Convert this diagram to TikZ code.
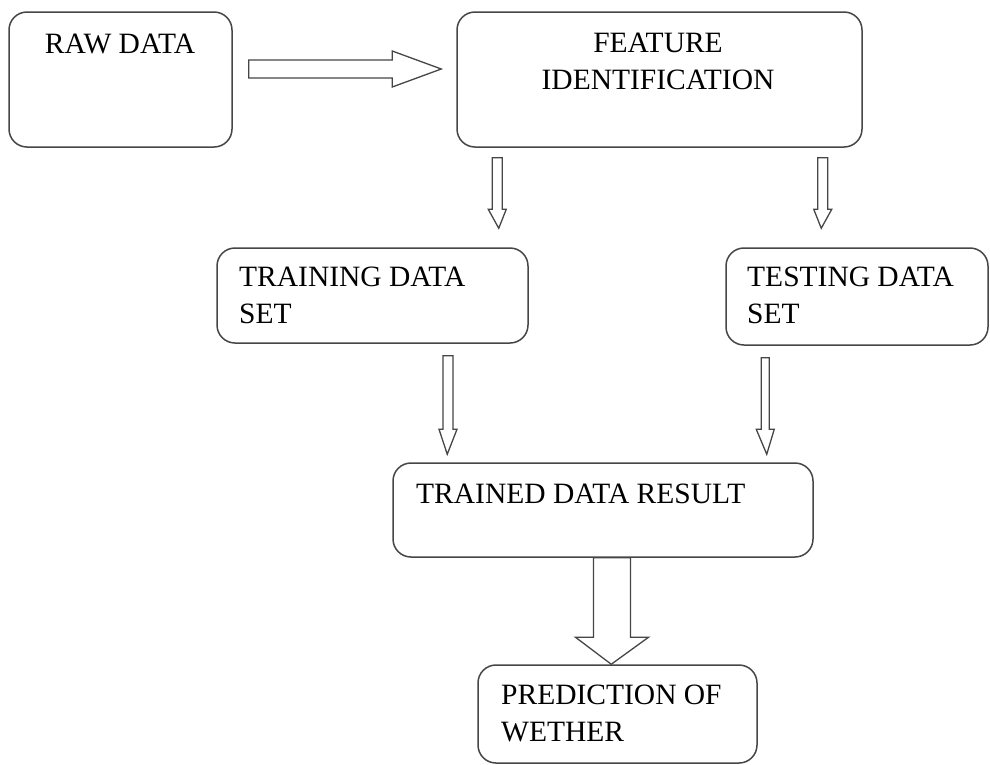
\documentclass[tikz,border=0pt]{standalone}
\usepackage{fontspec}
\setmainfont{Liberation Serif}
\usetikzlibrary{calc}
\definecolor{linegray}{RGB}{70,70,70}
\newcommand{\vblockarrow}[5]{%
  \draw[blk] let \p1=(#1), \p2=(#2) in
   (\x1-#3pt,\y1) -- (\x1+#3pt,\y1) -- (\x1+#3pt,\y2+#5pt) -- (\x1+#4pt,\y2+#5pt)
   -- (\x2,\y2) -- (\x1-#4pt,\y2+#5pt) -- (\x1-#3pt,\y2+#5pt) -- cycle;}
\newcommand{\hblockarrow}[5]{%
  \draw[blk] let \p1=(#1), \p2=(#2) in
   (\x1,\y1-#3pt) -- (\x2-#5pt,\y1-#3pt) -- (\x2-#5pt,\y1-#4pt)
   -- (\x2,\y2) -- (\x2-#5pt,\y1+#4pt) -- (\x2-#5pt,\y1+#3pt) -- (\x1,\y1+#3pt) -- cycle;}
\begin{document}
\begin{tikzpicture}[x=1pt,y=-1pt,
  box/.style={draw=linegray, line width=1.5pt, rounded corners=18pt, inner sep=0pt, fill=white},
  lbl/.style={inner sep=0pt, font=\fontsize{29.5}{37}\selectfont, text=black},
  blk/.style={draw=linegray, line width=1.3pt, fill=white, line join=miter}]
\useasboundingbox (0,0) rectangle (990,764);
\fill[white] (0,0) rectangle (990,764);

% boxes
\node[box, minimum width=223pt, minimum height=135pt] (raw) at (120.5,79.5) {};
\node[box, minimum width=405pt, minimum height=135pt] (feat) at (659.5,79.5) {};
\node[box, minimum width=311pt, minimum height=95pt] (train) at (372.5,295.5) {};
\node[box, minimum width=262pt, minimum height=97pt] (test) at (857,296.5) {};
\node[box, minimum width=420pt, minimum height=94pt] (trained) at (603,510) {};
\node[box, minimum width=279pt, minimum height=98pt] (pred) at (617.5,714) {};

% labels
\node[lbl, anchor=base] (rawt) at (120,53) {RAW DATA};
\node[lbl, anchor=north, align=center] (featt) at (658,33) {FEATURE\\IDENTIFICATION};
\node[lbl, anchor=north west, align=left] (traint) at (239,267) {TRAINING DATA\\SET};
\node[lbl, anchor=north west, align=left] (testt) at (747,267) {TESTING DATA\\SET};
\node[lbl, anchor=base west] (trainedt) at (416,503) {TRAINED DATA RESULT};
\node[lbl, anchor=north west, align=left] (predt) at (501,684.5) {PREDICTION OF\\WETHER};

% connector end points
\coordinate (a1s) at ($(raw.east)+(16,-10.5)$);
\coordinate (a1e) at ($(feat.west)+(-15,-10.5)$);
\coordinate (a2s) at ($(feat.south west)+(41,10)$);
\coordinate (a2e) at ($(train.north east)+(-30,-19)$);
\coordinate (a3s) at ($(feat.south east)+(-40,10)$);
\coordinate (a3e) at ($(test.north west)+(96,-19)$);
\coordinate (a4s) at ($(train.south)+(75.5,12)$);
\coordinate (a4e) at ($(trained.north west)+(55,-8)$);
\coordinate (a5s) at ($(test.south west)+(40,12)$);
\coordinate (a5e) at ($(trained.north east)+(-47,-8)$);
\coordinate (a6s) at ($(trained.south)+(9,0)$);
\coordinate (a6e) at ($(pred.north west)+(134,0)$);

% block arrows
\hblockarrow{a1s}{a1e}{9}{18}{49}
\vblockarrow{a2s}{a2e}{5}{9}{19}
\vblockarrow{a3s}{a3e}{5}{9}{19}
\vblockarrow{a4s}{a4e}{5}{9}{25}
\vblockarrow{a5s}{a5e}{4}{9}{25}
\vblockarrow{a6s}{a6e}{18.5}{36.5}{27}
\end{tikzpicture}
\end{document}
